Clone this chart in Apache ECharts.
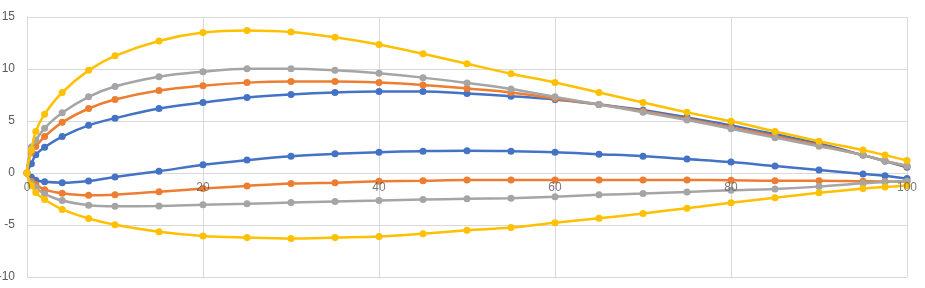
<!DOCTYPE html>
<html>
<head>
<meta charset="utf-8">
<script src="https://cdn.jsdelivr.net/npm/echarts@6/dist/echarts.min.js"></script>
<style>
  html, body { margin: 0; padding: 0; background: #ffffff; }
  #chart { width: 925px; height: 288px; }
</style>
</head>
<body>
<div id="chart"></div>
<script>
// Chord stations (% of chord)
var stations = [0, 0.5, 1, 2, 4, 7, 10, 15, 20, 25, 30, 35, 40, 45, 50, 55, 60, 65, 70, 75, 80, 85, 90, 95, 97.5, 100];

// Tick labels
var xTicks = [0, 20, 40, 60, 80, 100];
var yTicks = [-10, -5, 0, 5, 10, 15];

// Surface ordinates for each profile
var blueUpper   = [0, 0.9, 1.75, 2.48, 3.5, 4.58, 5.27, 6.2, 6.78, 7.26, 7.55, 7.74, 7.83, 7.83, 7.64, 7.38, 7.07, 6.59, 6.05, 5.35, 4.58, 3.72, 2.83, 1.72, 1.15, 0.55];
var blueLower   = [0, -0.4, -0.7, -0.85, -0.93, -0.76, -0.38, 0.17, 0.79, 1.24, 1.62, 1.84, 2.0, 2.1, 2.15, 2.1, 2.0, 1.81, 1.62, 1.34, 1.05, 0.67, 0.29, -0.1, -0.26, -0.54];

var orangeUpper = [0, 2.0, 2.54, 3.5, 4.87, 6.2, 7.07, 7.93, 8.4, 8.69, 8.79, 8.79, 8.69, 8.47, 8.12, 7.74, 7.16, 6.59, 5.95, 5.19, 4.38, 3.53, 2.67, 1.72, 1.15, 0.65];
var orangeLower = [0, -0.8, -1.1, -1.6, -1.95, -2.15, -2.08, -1.8, -1.5, -1.24, -1.02, -0.93, -0.8, -0.74, -0.67, -0.67, -0.67, -0.67, -0.67, -0.67, -0.7, -0.74, -0.74, -0.8, -0.82, -0.8];

var grayUpper   = [0, 2.5, 3.17, 4.3, 5.79, 7.32, 8.31, 9.25, 9.74, 10.03, 10.03, 9.87, 9.58, 9.17, 8.65, 8.08, 7.32, 6.59, 5.85, 5.09, 4.26, 3.4, 2.58, 1.72, 1.15, 0.7];
var grayLower   = [0, -1.0, -1.43, -2.0, -2.65, -3.09, -3.19, -3.17, -3.06, -2.96, -2.84, -2.74, -2.65, -2.55, -2.48, -2.42, -2.29, -2.1, -1.98, -1.82, -1.66, -1.53, -1.31, -0.99, -0.86, -0.8];

var yellowUpper = [0, 2.2, 4.0, 5.66, 7.74, 9.87, 11.27, 12.7, 13.5, 13.7, 13.55, 13.05, 12.35, 11.46, 10.5, 9.55, 8.7, 7.74, 6.78, 5.83, 4.97, 4.0, 3.06, 2.2, 1.72, 1.2];
var yellowLower = [0, -1.2, -1.88, -2.55, -3.5, -4.37, -4.97, -5.64, -6.05, -6.21, -6.3, -6.21, -6.11, -5.83, -5.51, -5.25, -4.78, -4.36, -3.89, -3.38, -2.87, -2.39, -1.91, -1.5, -1.34, -1.21];

var colors = ['#4472C4', '#ED7D31', '#A5A5A5', '#FFC000'];
var profiles = [
  [blueUpper, blueLower],
  [orangeUpper, orangeLower],
  [grayUpper, grayLower],
  [yellowUpper, yellowLower]
];

function buildLoop(upper, lower) {
  var pts = [];
  for (var i = stations.length - 1; i >= 0; i--) pts.push([stations[i], upper[i]]);
  for (var j = 1; j < stations.length; j++) pts.push([stations[j], lower[j]]);
  return pts;
}

var series = profiles.map(function (p, k) {
  return {
    type: 'line',
    data: buildLoop(p[0], p[1]),
    smooth: 0.35,
    symbol: 'circle',
    symbolSize: 7,
    lineStyle: { color: colors[k], width: 2.5 },
    itemStyle: { color: colors[k] },
    z: 2 + k
  };
});

// X tick labels placed on the zero line (the horizontal axis crosses at y = 0)
series.push({
  type: 'scatter',
  data: xTicks.map(function (t) { return [t, 0]; }),
  symbolSize: 0,
  silent: true,
  z: 20,
  label: {
    show: true,
    position: 'bottom',
    distance: 9,
    color: '#595959',
    fontSize: 12,
    fontFamily: 'Liberation Sans, Arial, sans-serif',
    formatter: function (p) { return String(p.value[0]); }
  }
});

var chart = echarts.init(document.getElementById('chart'), null, { renderer: 'canvas' });
chart.setOption({
  animation: false,
  backgroundColor: '#ffffff',
  grid: { left: 27, right: 18, top: 17, bottom: 11, containLabel: false, outerBoundsMode: 'none' },
  xAxis: {
    type: 'value',
    min: xTicks[0],
    max: xTicks[xTicks.length - 1],
    interval: 20,
    axisLine: { show: false },
    axisTick: { show: false },
    splitLine: { show: true, lineStyle: { color: '#D9D9D9', width: 1 } },
    axisLabel: { show: false }
  },
  yAxis: {
    type: 'value',
    min: yTicks[0],
    max: yTicks[yTicks.length - 1],
    interval: 5,
    axisLine: { show: true, onZero: false, lineStyle: { color: '#D9D9D9', width: 1 } },
    axisTick: { show: false },
    splitLine: { show: true, lineStyle: { color: '#D9D9D9', width: 1 } },
    axisLabel: { color: '#595959', fontSize: 12, fontFamily: 'Liberation Sans, Arial, sans-serif', margin: 12 }
  },
  series: series
});
</script>
</body>
</html>
